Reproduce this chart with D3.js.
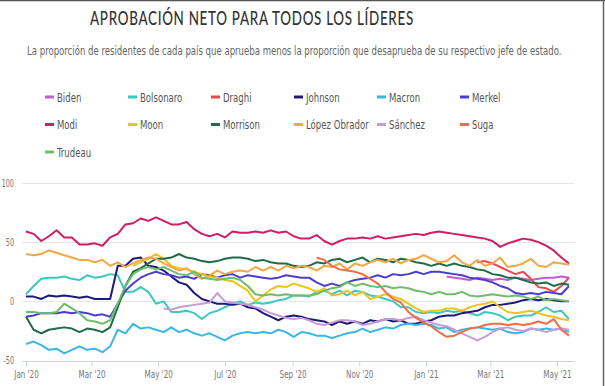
<!DOCTYPE html>
<html>
<head>
<meta charset="utf-8">
<script src="https://cdn.jsdelivr.net/npm/d3@7"></script>
<style>
  body { margin: 0; background: #fff; }
  svg text { font-family: "DejaVu Sans Condensed", "Liberation Sans", sans-serif; }
</style>
</head>
<body>
<div id="chart"></div>
<script>
// weekly readings, Jan 1 2020 .. May 12 2021
var dates = ["2020-01-01","2020-01-08","2020-01-15","2020-01-22","2020-01-29","2020-02-05","2020-02-12","2020-02-19","2020-02-26",
  "2020-03-04","2020-03-11","2020-03-18","2020-03-25","2020-04-01","2020-04-08","2020-04-15","2020-04-22","2020-04-29",
  "2020-05-06","2020-05-13","2020-05-20","2020-05-27","2020-06-03","2020-06-10","2020-06-17","2020-06-24","2020-07-01",
  "2020-07-08","2020-07-15","2020-07-22","2020-07-29","2020-08-05","2020-08-12","2020-08-19","2020-08-26","2020-09-02",
  "2020-09-09","2020-09-16","2020-09-23","2020-09-30","2020-10-07","2020-10-14","2020-10-21","2020-10-28","2020-11-04",
  "2020-11-11","2020-11-18","2020-11-25","2020-12-02","2020-12-09","2020-12-16","2020-12-23","2020-12-30","2021-01-06",
  "2021-01-13","2021-01-20","2021-01-27","2021-02-03","2021-02-10","2021-02-17","2021-02-24","2021-03-03","2021-03-10",
  "2021-03-17","2021-03-24","2021-03-31","2021-04-07","2021-04-14","2021-04-21","2021-04-28","2021-05-05","2021-05-12"]

var _ = null
var biden = [_,_,_,_,_,_,_,_,_,_, _,_,_,_,_,_,_,_,_,_, _,_,_,_,_,_,_,_,_,_, _,_,_,_,_,_,
  _,_,_,_,_,_,_,_,_,_, _,_,_,_,_,_,_,_,_,21,
  20,19,18,20,19,18,19,18,20,19, 18,19,20,20,21,20]
var bolsonaro = [6,13,19,20,20,21,19,18,22,20, 21,23,22,8,8,12,8,-2,0,-9, -9,-8,-10,-15,-10,-8,-5,-2,0,-3, -1,-2,-1,1,2,5,
  5,4,8,9,6,9,5,9,8,5, 4,2,0,-5,-5,-9,-10,-9,-10,-8,
  -9,-8,-10,-12,-9,-10,-12,-16,-13,-12, -12,-9,-5,-9,-8,-15]
var draghi = [_,_,_,_,_,_,_,_,_,_, _,_,_,_,_,_,_,_,_,_, _,_,_,_,_,_,_,_,_,_, _,_,_,_,_,_,
  _,_,_,_,_,_,_,_,_,_, _,_,_,_,_,_,_,_,_,_,
  _,_,_,33,34,32,29,26,23,25, 19,12,11,8,13,20]
var johnson = [4,4,2,5,4,5,4,3,4,2, 2,2,30,30,36,37,30,29,26,21, 16,14,7,2,0,-2,-2,-3,-2,-5, -6,-10,-13,-16,-13,-12,
  -13,-15,-16,-17,-20,-17,-19,-17,-19,-16, -17,-15,-17,-16,-19,-19,-17,-16,-13,-12,
  -12,-10,-9,-8,-5,-3,-3,-2,-1,1, 2,1,2,1,0,0]
var macron = [-36,-34,-37,-41,-40,-44,-41,-38,-41,-40, -43,-38,-24,-27,-19,-23,-22,-24,-26,-22, -26,-24,-27,-29,-27,-30,-33,-29,-27,-26, -27,-26,-27,-24,-26,-30,
  -26,-27,-29,-29,-31,-29,-27,-26,-23,-26, -24,-22,-23,-20,-19,-20,-19,-20,-23,-22,
  -26,-24,-23,-22,-23,-24,-23,-26,-27,-26, -23,-24,-23,-24,-23,-26]
var merkel = [-13,-12,-10,-10,-10,-9,-10,-9,-10,-12, -11,-13,-2,9,15,20,23,25,23,22, 20,21,19,23,22,20,22,23,20,22, 21,20,19,20,22,21,
  20,20,16,13,15,13,16,18,19,20, 22,20,23,22,23,25,23,25,25,24,
  23,22,20,19,18,16,13,11,7,6, 7,6,8,7,6,13]
var modi = [59,57,51,55,60,54,54,48,48,49, 47,54,57,65,66,70,68,71,68,65, 65,67,61,57,55,57,54,59,58,58, 59,58,60,58,59,55,
  53,53,56,51,48,51,53,53,54,53, 55,53,54,55,56,57,56,58,59,58,
  57,56,55,54,53,51,46,49,51,53, 52,50,47,43,37,32]
var moon = [_,_,_,_,_,_,_,_,_,_, _,_,_,_,30,33,36,40,36,30, 28,27,25,23,21,20,18,17,13,9, 0,5,10,13,12,15,
  13,11,8,11,5,6,9,5,8,2, 4,6,4,2,-2,-6,-9,-8,-8,-6,
  -6,-8,-5,-3,-2,0,-5,-9,-10,-9, -8,-10,-12,-13,-15,-16]
var morrison = [-13,-24,-27,-24,-23,-22,-23,-26,-23,-24, -26,-22,-5,13,25,28,32,36,36,37, 40,37,36,34,33,34,36,37,37,36, 34,35,33,32,32,30,
  29,30,33,32,35,36,33,35,37,33, 36,35,33,36,35,33,32,30,32,30,
  32,30,29,27,26,23,22,20,20,18, 16,15,16,13,15,14]
var lopezObrador = [40,39,40,43,41,39,37,35,35,33, 35,30,33,29,32,35,37,36,32,29, 26,28,23,19,22,26,23,25,26,25, 29,26,29,26,30,28,
  30,29,26,30,29,32,27,32,30,33, 35,33,36,32,35,36,39,36,33,34,
  39,33,30,35,30,32,37,29,30,32, 36,30,29,33,32,31]
var sanchez = [_,_,_,_,_,_,_,_,_,_, _,_,_,_,_,_,_,_,-6,-7, -5,-4,-3,-2,-1,7,0,-1,-2,-3, -5,-7,-10,-12,-14,-15,
  -14,-16,-19,-20,-18,-16,-16,-17,-20,-19, -17,-15,-15,-16,-14,-13,-16,-18,-20,-21,
  -24,-27,-30,-33,-30,-26,-23,-22,-24,-25, -23,-24,-26,-24,-23,-24]
var suga = [_,_,_,_,_,_,_,_,_,_, _,_,_,_,_,_,_,_,_,_, _,_,_,_,_,_,_,_,_,_, _,_,_,_,_,_,
  _,_,37,35,30,27,26,25,23,19, 15,8,2,-1,-9,-14,-18,-21,-26,-30,
  -29,-26,-23,-22,-20,-19,-19,-20,-19,-20, -19,-17,-19,-15,-24,-29]
var trudeau = [-9,-9,-10,-10,-9,-2,-6,-10,-16,-17, -19,-16,-2,13,23,27,29,27,29,26, 23,22,25,20,19,18,19,20,18,13, 6,5,6,5,6,5,
  5,5,6,9,11,12,16,13,15,13, 12,13,11,12,11,9,8,6,8,6,
  6,8,5,4,5,6,5,4,5,4, 2,4,1,2,1,0]

var leaders = ["Biden","Bolsonaro","Draghi","Johnson","Macron","Merkel","Modi","Moon","Morrison","López Obrador","Sánchez","Suga","Trudeau"]
var seriesValues = [biden, bolsonaro, draghi, johnson, macron, merkel, modi, moon, morrison, lopezObrador, sanchez, suga, trudeau]
var colors = ["#c35ad3","#3cc8bd","#e8484b","#1b1a7c","#3ab7e4","#4b3dd0","#cf1c66","#efc21e","#1f6a48","#f4a746","#c69bd8","#f26c44","#6dbd6b"]

var yTicks = [-50, 0, 50, 100]
var xTickDates = ["2020-01-01","2020-03-01","2020-05-01","2020-07-01","2020-09-01","2020-11-01","2021-01-01","2021-03-01","2021-05-01"]
var xTickLabels = ["Jan '20","Mar '20","May '20","Jul '20","Sep '20","Nov '20","Jan '21","Mar '21","May '21"]

var W = 605, H = 386
var parse = d3.utcParse("%Y-%m-%d")

var svg = d3.select("#chart").append("svg").attr("width", W).attr("height", H)

// squeeze a text horizontally so it fits a given width
function fitWidth(sel, width) {
  var w = sel.node().getComputedTextLength()
  var tx = +sel.attr("data-x"), ty = +sel.attr("data-y")
  sel.attr("transform", "translate(" + tx + "," + ty + ") scale(" + (width / w) + ",1)")
}
function narrow(sel, k) {
  sel.attr("transform", "translate(" + sel.attr("data-x") + "," + sel.attr("data-y") + ") scale(" + k + ",1)")
}

// frame edges
svg.append("line").attr("x1", 0).attr("x2", W).attr("y1", 0.5).attr("y2", 0.5).attr("stroke", "#555").attr("stroke-width", 1.5)
svg.append("line").attr("x1", W - 1.5).attr("x2", W - 1.5).attr("y1", 0).attr("y2", H).attr("stroke", "#666").attr("stroke-width", 1.5)

// title + subtitle
var title = svg.append("text")
  .attr("data-x", 90).attr("data-y", 25)
  .style("font-family", "Lato, 'Open Sans', sans-serif")
  .style("font-size", "19px").style("font-weight", 500).attr("fill", "#333")
  .style("letter-spacing", "1px")
  .text("APROBACIÓN NETO PARA TODOS LOS LÍDERES")
fitWidth(title, 324)

var sub = svg.append("text")
  .attr("data-x", 27).attr("data-y", 55)
  .style("font-size", "12.5px").attr("fill", "#666")
  .text("La proporción de residentes de cada país que aprueba menos la proporción que desaprueba de su respectivo jefe de estado.")
fitWidth(sub, 535)

// legend
var legend = svg.append("g")
leaders.forEach(function(name, i) {
  var lx = 45 + 83 * (i % 6)
  var ly = 97 + 27.5 * Math.floor(i / 6)
  legend.append("line").attr("x1", lx).attr("x2", lx + 9).attr("y1", ly).attr("y2", ly)
    .attr("stroke", colors[i]).attr("stroke-width", 3)
  var t = legend.append("text").attr("data-x", lx + 12).attr("data-y", ly).attr("dy", "0.36em")
    .style("font-size", "12.5px").attr("fill", "#555").text(name)
  narrow(t, 0.76)
})

// scales
var x = d3.scaleUtc().domain([parse("2020-01-01"), parse("2021-05-12")]).range([26, 569])
var y = d3.scaleLinear().domain([-50, 100]).range([360.5, 183])

// grid
svg.append("g").selectAll("line").data(yTicks).join("line")
  .attr("x1", 22).attr("x2", 575)
  .attr("y1", function(d) { return Math.round(y(d)) + 0.5 })
  .attr("y2", function(d) { return Math.round(y(d)) + 0.5 })
  .attr("stroke", function(d) { return d == -50 ? "#ccd3dc" : "#e6e6e6" })

svg.append("g").selectAll("text").data(yTicks).join("text")
  .attr("data-x", 14).attr("data-y", function(d) { return y(d) }).attr("dy", "0.35em")
  .attr("text-anchor", "end").style("font-size", "10px").attr("fill", "#777")
  .text(function(d) { return d })
  .each(function() { narrow(d3.select(this), 0.72) })

// x axis
var xAxis = d3.axisBottom(x)
  .tickValues(xTickDates.map(parse))
  .tickFormat(function(d, i) { return xTickLabels[i] })
  .tickSize(5).tickPadding(4)
var xg = svg.append("g").attr("transform", "translate(0," + (Math.round(y(-50)) + 0.5) + ")").call(xAxis)
xg.select(".domain").remove()
xg.selectAll(".tick line").attr("stroke", "#ccd3dc")
xg.selectAll(".tick text").style("font-size", "10px").attr("fill", "#777")
  .style("font-family", "'DejaVu Sans Condensed', sans-serif")
  .attr("transform", "scale(0.8,1)")

// lines
var line = d3.line()
  .defined(function(d) { return d != null })
  .x(function(d, i) { return x(parse(dates[i])) })
  .y(function(d) { return y(d) })

svg.append("g").selectAll("path").data(seriesValues).join("path")
  .attr("d", line)
  .attr("fill", "none")
  .attr("stroke", function(d, i) { return colors[i] })
  .attr("stroke-width", 2)
  .attr("stroke-linejoin", "round")
</script>
</body>
</html>
